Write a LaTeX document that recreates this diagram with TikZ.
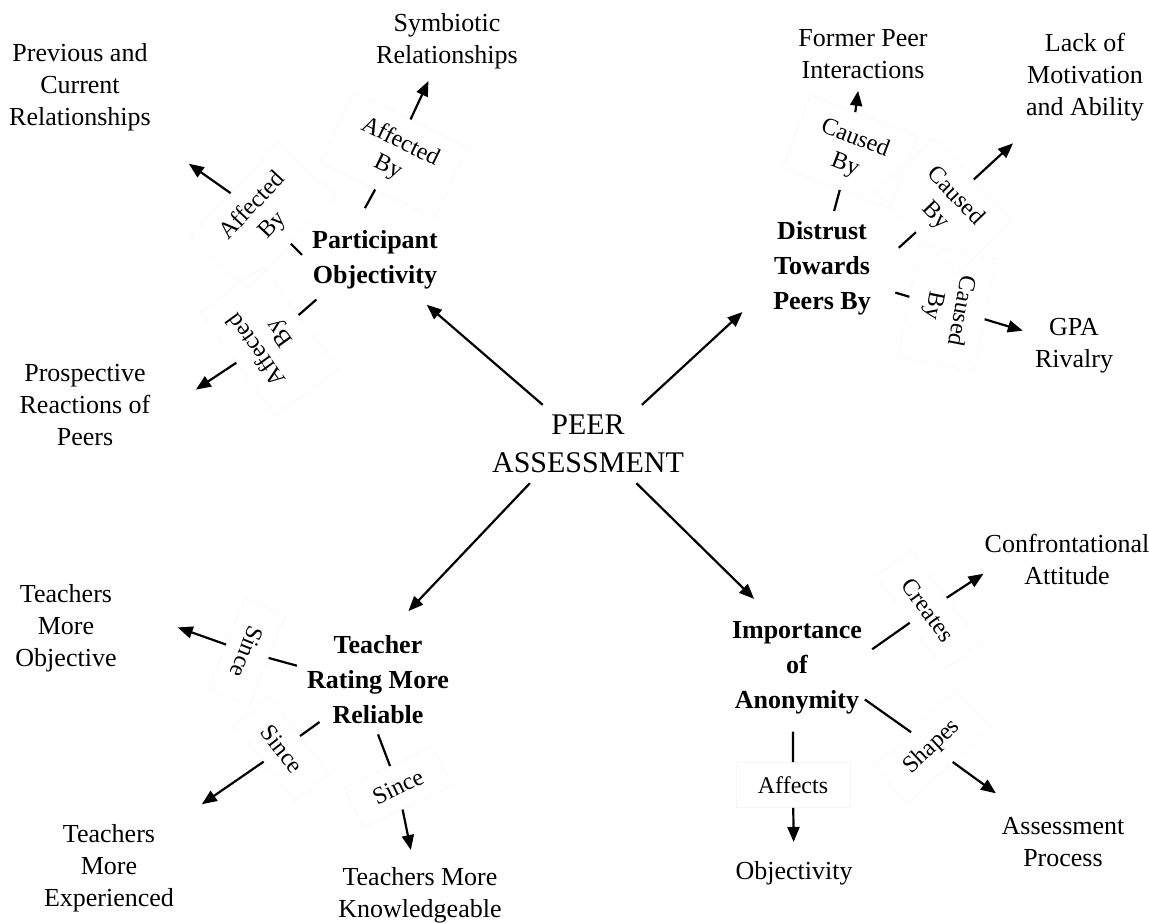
\documentclass[tikz,border=0pt]{standalone}
\usepackage{fontspec}
\setmainfont{Liberation Serif}
\usetikzlibrary{arrows.meta}
\tikzset{
    root/.style={font=\fontsize{30}{38}\selectfont, align=center, inner sep=10pt},
    concept/.style={font=\bfseries\fontsize{26}{35}\selectfont, align=center, inner sep=10pt},
    leaf/.style={font=\fontsize{26}{32}\selectfont, align=center, inner sep=12pt},
    link/.style={font=\fontsize{24}{28}\selectfont, align=center, draw=black!4, inner xsep=22pt, inner ysep=14pt},
    conn/.style={line width=2.2pt},
    arr/.style={line width=2.2pt, -{Triangle[length=15pt,width=12pt]}}
}
\begin{document}
\begin{tikzpicture}[x=1pt,y=-1pt]
    \useasboundingbox (0,0) rectangle (1149,923);
    \node[root] (pa) at (588,444) {PEER\\ASSESSMENT};
    \node[concept] (po) at (375,260) {Participant\\Objectivity};
    \node[concept] (dt) at (822,268) {Distrust\\Towards\\Peers By};
    \node[concept] (tr) at (378,680) {Teacher\\Rating More\\Reliable};
    \node[concept] (ia) at (797,668) {Importance\\of\\Anonymity};

    \node[leaf] (sym) at (447,41) {Symbiotic\\Relationships};
    \node[leaf] (prev) at (80,87) {Previous and\\Current\\Relationships};
    \node[leaf] (pros) at (85,405) {Prospective\\Reactions of\\Peers};
    \node[leaf] (fpi) at (863,54) {Former Peer\\Interactions};
    \node[leaf] (lma) at (1085,77) {Lack of\\Motivation\\and Ability};
    \node[leaf] (gpa) at (1074,346) {GPA\\Rivalry};
    \node[leaf,inner xsep=1pt] (conf) at (1067,559) {Confrontational\\Attitude};
    \node[leaf] (asp) at (1063,842) {Assessment\\Process};
    \node[leaf] (obj) at (794,873) {Objectivity};
    \node[leaf] (tmo) at (66,628) {Teachers\\More\\Objective};
    \node[leaf] (tme) at (109,868) {Teachers\\More\\Experienced};
    \node[leaf] (tmk) at (420,895) {Teachers More\\Knowledgeable};

    \node[link,rotate=-26] (l1) at (394,155) {Affected\\By};
    \node[link,rotate=47] (l2) at (263,216) {Affected\\By};
    \node[link,rotate=126] (l3) at (269,341) {Affected\\By};
    \node[link,rotate=-21] (l4) at (850,152) {Caused\\By};
    \node[link,rotate=-46] (l5) at (945,206) {Caused\\By};
    \node[link,rotate=-101] (l6) at (947,308) {Caused\\By};
    \node[link,rotate=-112] (l7) at (247,652) {Since};
    \node[link,rotate=-52] (l8) at (282,749) {Since};
    \node[link,rotate=26] (l9) at (398,787) {Since};
    \node[link,rotate=-54] (l10) at (928,610) {Creates};
    \node[link,rotate=43] (l11) at (932,747) {Shapes};
    \node[link] (l12) at (793,785) {Affects};

    \draw[arr,shorten >=8pt] (pa) -- (po);
    \draw[arr,shorten >=28pt] (pa.36) -- (dt.203);
    \draw[arr,shorten >=20pt] (pa.214) -- (tr.73);
    \draw[arr,shorten >=18pt] (pa.-39) -- (ia.118);

    \draw[conn,shorten <=14pt] (po.113) -- (l1);
    \draw[conn] (po.176) -- (l2);
    \draw[conn] (po.214) -- (l3);
    \draw[conn] (dt.78) -- (l4);
    \draw[conn,shorten <=24pt] (dt.4) -- (l5);
    \draw[conn,shorten <=15pt] (dt.-19) -- (l6);
    \draw[conn] (tr.170) -- (l7);
    \draw[conn,shorten <=72pt] (tr.center) -- (l8);
    \draw[conn] (tr.south) -- (l9);
    \draw[conn] (ia.14) -- (l10);
    \draw[conn,shorten <=-9pt] (ia.-26) -- (l11);
    \draw[conn,shorten <=7pt] (ia.266) -- (l12);

    \draw[arr] (l1) -- (sym);
    \draw[arr,shorten >=36pt] (l2) -- (prev);
    \draw[arr,shorten >=40pt] (l3) -- (pros.-5);
    \draw[arr] (l4) -- (fpi);
    \draw[arr,shorten >=15pt] (l5) -- (lma);
    \draw[arr] (l6) -- (gpa);
    \draw[arr,shorten >=52pt] (l7) -- (tmo.16);
    \draw[arr,shorten >=19pt] (l8) -- (tme);
    \draw[arr,shorten >=5pt] (l9) -- (tmk);
    \draw[arr] (l10) -- (conf.190);
    \draw[arr,shorten >=20pt] (l11) -- (asp);
    \draw[arr,shorten >=7pt] (l12) -- (obj);
\end{tikzpicture}
\end{document}
